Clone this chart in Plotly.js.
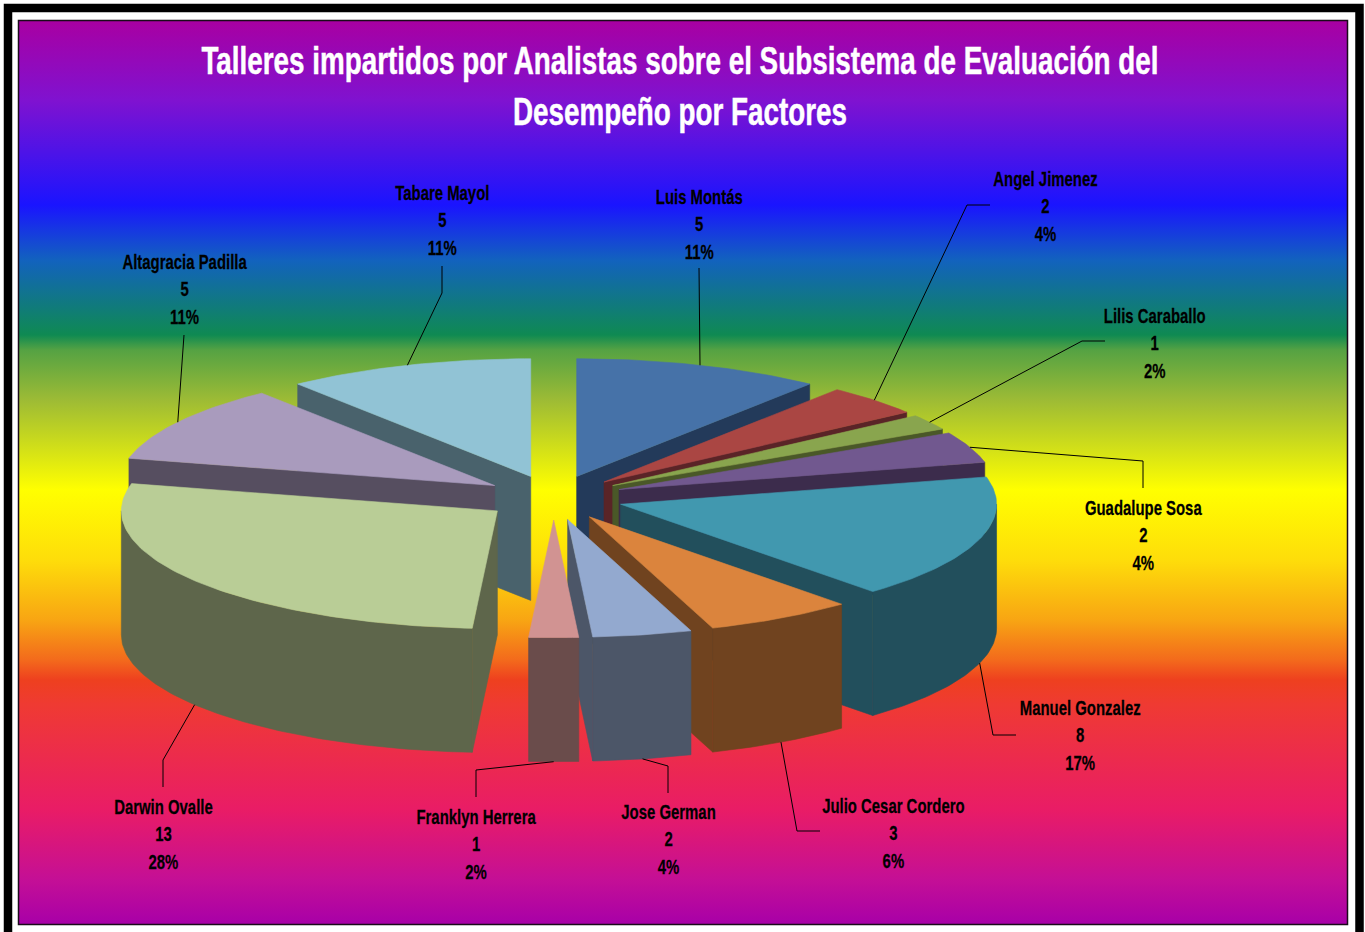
<!DOCTYPE html>
<html>
<head>
<meta charset="utf-8">
<script src="https://cdn.plot.ly/plotly-3.0.1.min.js"></script>
<style>html,body{margin:0;padding:0;background:#fff;overflow:hidden}#chart{width:1365px;height:932px}</style>
</head>
<body>
<div id="chart"></div>
<script>
// ---- data ----
const categories = ['Luis Montás','Angel Jimenez','Lilis Caraballo','Guadalupe Sosa','Manuel Gonzalez','Julio Cesar Cordero','Jose German','Franklyn Herrera','Darwin Ovalle','Altagracia Padilla','Tabare Mayol'];
const values = [5,2,1,2,8,3,2,1,13,5,5];
const topColors = ['#4672A8','#AA4643','#89A54E','#71588F','#4198AF','#DB843D','#93A9CF','#D19392','#B9CD96','#A99BBD','#91C3D5'];
const sideColors = ['#233A5A','#5A2427','#4A5828','#3C2C4C','#224F5C','#70431F','#4C5668','#6A4C4B','#5E664B','#564E60','#49626C'];
const titleLines = ['Talleres impartidos por Analistas sobre el Subsistema de Evaluación del','Desempeño por Factores'];

// ---- label placement (page pixels) ----
const labelX = [699,1045,1155,1143,1080,893,668,476,163,184,442];
const labelY = [224,206,343,535,734.5,833,839,844,834,289,220];
const elbowX = [[699],[967,990],[1082,1105],[1143,1143],[993,1016],[797,820],[668,668],[476,476],[163,163],[184],[442,442]];
const elbowY = [[268],[205,205],[341,341],[461,488],[735,735],[831,831],[766,793],[770,797],[760,787],[335],[293,266]];

// ---- projection of the tilted pie ----
const CX=553.7, CY=497.6, R=376, TILT=0.313, EXPLODE=70, K=0.32, DEPTH=124;
const total = values.reduce((a,b)=>a+b,0);
const rad = d=>d*Math.PI/180;
let cum = 0;
const slices = values.map((v,i)=>{
  const s = cum/total*360; cum += v; const e = cum/total*360; const m=(s+e)/2;
  const ax = CX+EXPLODE*Math.sin(rad(m)), ay = CY-EXPLODE*K*Math.cos(rad(m));
  return {i,s,e,m,ax,ay};
});
const pt = (sl,a,h=0)=>[sl.ax+R*Math.sin(rad(a)), sl.ay-R*TILT*Math.cos(rad(a))+h];
function arc(sl,a,b,h=0){
  const n=Math.max(2,Math.ceil(Math.abs(b-a))), out=[];
  for(let j=0;j<=n;j++) out.push(pt(sl,a+(b-a)*j/n,h));
  return out;
}
function poly(points,color,name){
  const xs=points.map(p=>p[0]), ys=points.map(p=>p[1]);
  return {type:'scatter',mode:'lines',x:xs.concat(xs[0]),y:ys.concat(ys[0]),fill:'toself',fillcolor:color,
    line:{color:color,width:0.6},hoverinfo:'text',text:name,showlegend:false};
}
const traces=[];
// gradient backdrop
const gradientStops=[[21,'#A800A2'],[100,'#8012D0'],[205,'#1A14FF'],[260,'#1262BE'],[335,'#0F8A52'],[350,'#55A243'],[400,'#9DBB35'],[490,'#FFFF00'],[560,'#FEDD0A'],[620,'#F8A513'],[660,'#F36A1C'],[680,'#EE401F'],[705,'#EF3A33'],[810,'#E91C66'],[880,'#C40F96'],[924,'#A800A8']];
const G0=21,G1=924;
traces.push({type:'scatter',mode:'lines',x:[19,1347,1347,19,19],y:[G0,G0,G1,G1,G0],line:{width:0},fill:'toself',hoverinfo:'skip',showlegend:false,
  fillgradient:{type:'vertical',start:G0,stop:G1,colorscale:gradientStops.map(g=>[(g[0]-G0)/(G1-G0),g[1]])}});
// back-to-front painter's order
slices.slice().sort((a,b)=>Math.cos(rad(b.m))-Math.cos(rad(a.m))).forEach(sl=>{
  const top=topColors[sl.i], side=sideColors[sl.i], name=categories[sl.i];
  const apexTop=[sl.ax,sl.ay], apexBot=[sl.ax,sl.ay+DEPTH];
  if(Math.sin(rad(sl.s))<-1e-6) traces.push(poly([apexTop,pt(sl,sl.s),pt(sl,sl.s,DEPTH),apexBot],side,name));
  if(Math.sin(rad(sl.e))>1e-6) traces.push(poly([apexTop,pt(sl,sl.e),pt(sl,sl.e,DEPTH),apexBot],side,name));
  const a=Math.max(sl.s,90), b=Math.min(sl.e,270);
  if(b>a) traces.push(poly(arc(sl,a,b).concat(arc(sl,b,a,DEPTH)),side,name));
  traces.push(poly([apexTop].concat(arc(sl,sl.s,sl.e)),top,name));
});
// leader lines start from the slice edge at its mid angle
slices.forEach(sl=>{
  const front=Math.cos(rad(sl.m))<0;
  const st=pt(sl,sl.m,front?DEPTH:0);
  traces.push({type:'scatter',mode:'lines',x:[st[0]].concat(elbowX[sl.i]),y:[st[1]].concat(elbowY[sl.i]),
    line:{color:'#000',width:1},hoverinfo:'skip',showlegend:false});
});
const font='"Liberation Sans",Arial,sans-serif';
const annotations=slices.map(sl=>({
  xref:'x',yref:'y',x:labelX[sl.i],y:labelY[sl.i],xanchor:'center',yanchor:'middle',showarrow:false,
  text:'<b>'+categories[sl.i]+'<br>'+values[sl.i]+'<br>'+Math.round(values[sl.i]/total*100)+'%</b>',
  font:{family:font,size:21,color:'#000'}
}));
const layout={
  width:1365,height:932,margin:{l:0,r:0,t:0,b:0},paper_bgcolor:'#fff',plot_bgcolor:'rgba(0,0,0,0)',showlegend:false,
  title:{text:'<b>'+titleLines.join('<br>')+'</b>',x:680/1365,xanchor:'center',y:1-74.5/932,yanchor:'middle',font:{family:font,size:38.5,color:'#fff'}},
  xaxis:{range:[0,1365],visible:false,fixedrange:true},
  yaxis:{range:[932,0],visible:false,fixedrange:true},
  annotations,
  shapes:[
    {type:'rect',xref:'x',yref:'y',x0:8,y0:8,x1:1359.5,y1:960,line:{color:'#000',width:8.5},fillcolor:'rgba(0,0,0,0)'},
    {type:'rect',xref:'x',yref:'y',x0:18.5,y0:20.5,x1:1347.5,y1:924.5,line:{color:'#1a0a1a',width:1.5},fillcolor:'rgba(0,0,0,0)'}
  ]
};
// the reference type is a narrow face: squeeze the real text horizontally
function narrow(el,sx,stroke,color){
  const b=el.getBBox(), c=b.x+b.width/2;
  const old=el.getAttribute('transform')||'';
  el.setAttribute('transform',old+' translate('+c+' 0) scale('+sx+' 1) translate('+(-c)+' 0)');
  el.style.stroke=color; el.style.strokeWidth=stroke+'px';
}
Plotly.newPlot('chart',traces,layout,{displayModeBar:false}).then(gd=>{
  gd.querySelectorAll('.annotation-text-g text').forEach(t=>narrow(t,0.71,0.25,'#000'));
  gd.querySelectorAll('.gtitle').forEach(t=>narrow(t,0.723,0.5,'#fff'));
});
</script>
</body>
</html>
